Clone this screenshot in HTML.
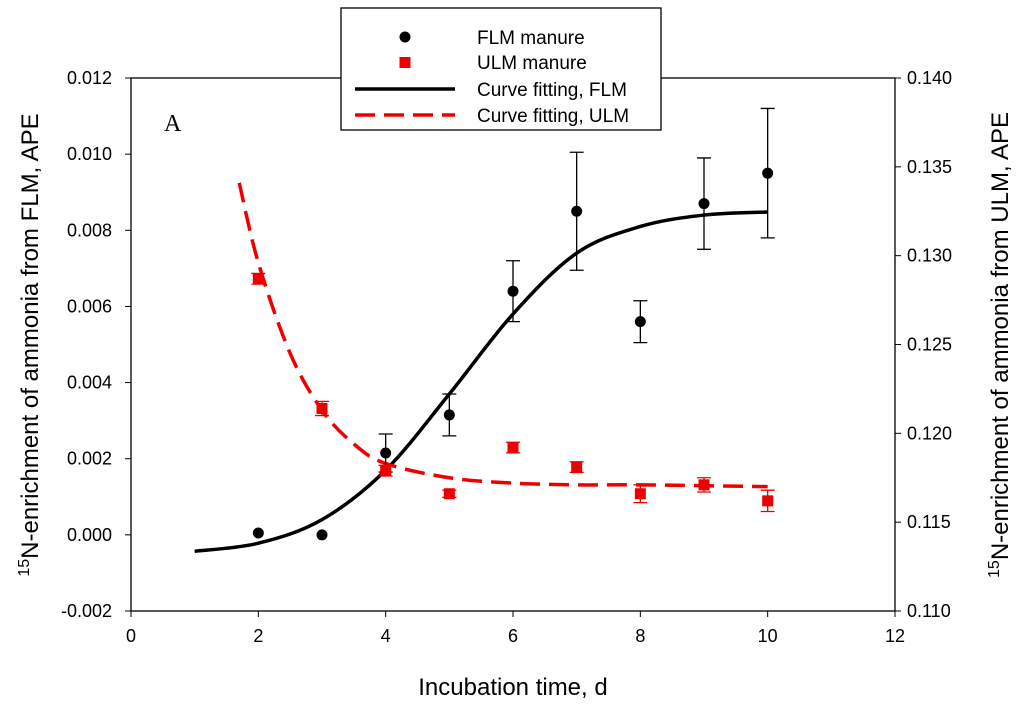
<!DOCTYPE html>
<html><head><meta charset="utf-8"><style>
body{margin:0;background:#fff}
svg{display:block;font-family:"Liberation Sans",sans-serif}
</style></head><body>
<svg id="c" width="1024" height="706" viewBox="0 0 1024 706"></svg>
<script>
const xTicks=[0,2,4,6,8,10,12];
const yLTicks=[-0.002,0,0.002,0.004,0.006,0.008,0.010,0.012];
const yLLabels=["-0.002","0.000","0.002","0.004","0.006","0.008","0.010","0.012"];
const yRTicks=[0.110,0.115,0.120,0.125,0.130,0.135,0.140];
const yRLabels=["0.110","0.115","0.120","0.125","0.130","0.135","0.140"];
const flmX=[2,3,4,5,6,7,8,9,10];
const flmY=[0.00005,0.0000,0.00215,0.00315,0.0064,0.0085,0.0056,0.0087,0.0095];
const flmErr=[0,0,0.0005,0.00055,0.0008,0.00155,0.00055,0.0012,0.0017];
const ulmX=[2,3,4,5,6,7,8,9,10];
const ulmY=[0.1287,0.1214,0.1179,0.1166,0.1192,0.1181,0.1166,0.1171,0.1162];
const ulmErr=[0.0003,0.0004,0.0003,0.0002,0.0003,0.0003,0.0005,0.0004,0.0006];
const flmFitX=[1,2,3,4,5,6,7,8,9,10];
const flmFitY=[-0.00043,-0.00022,0.0004,0.0017,0.0037,0.0058,0.0074,0.0081,0.0084,0.00848];
const ulmFitX=[1.7,2,2.5,3,3.5,4,5,6,7,8,10];
const ulmFitY=[0.1341,0.1296,0.1245,0.1213,0.1194,0.1183,0.1175,0.1172,0.1171,0.1171,0.1170];

const L=131,R=895,T=78,B=611;
const sx=v=>L+(v-0)/12*(R-L);
const sy=v=>B-(v+0.002)/0.014*(B-T);
const sr=v=>B-(v-0.110)/0.030*(B-T);
const svg=document.getElementById('c');
const NS='http://www.w3.org/2000/svg';
function mk(t,a,txt){const e=document.createElementNS(NS,t);for(const k in a)e.setAttribute(k,a[k]);if(txt!==undefined)e.textContent=txt;svg.appendChild(e);return e;}
let e;
e=mk('rect',{x:L,y:T,width:R-L,height:B-T,fill:'none',stroke:'#000','stroke-width':1.3});

xTicks.forEach(v=>{
 e=mk('line',{x1:sx(v),x2:sx(v),y1:B,y2:B+6,stroke:'#000'});
 
 e=mk('text',{x:sx(v),y:B+31,'text-anchor':'middle','font-size':18},String(v));
 
});
yLTicks.forEach((v,i)=>{
 e=mk('line',{x1:L-6,x2:L,y1:sy(v),y2:sy(v),stroke:'#000'});
 
 e=mk('text',{x:L-19,y:sy(v)+6,'text-anchor':'end','font-size':18},yLLabels[i]);
 
});
yRTicks.forEach((v,i)=>{
 e=mk('line',{x1:R,x2:R+6,y1:sr(v),y2:sr(v),stroke:'#000'});
 
 e=mk('text',{x:R+12,y:sr(v)+6,'font-size':18},yRLabels[i]);
 
});
e=mk('text',{x:513,y:695,'text-anchor':'middle','font-size':24},'Incubation time, d');

e=mk('text',{transform:'translate(38,345) rotate(-90)','text-anchor':'middle','font-size':24});
e.innerHTML='<tspan font-size="16" dy="-9">15</tspan><tspan dy="9">N-enrichment of ammonia from FLM, APE</tspan>';

e=mk('text',{transform:'translate(1008,345) rotate(-90)','text-anchor':'middle','font-size':24});
e.innerHTML='<tspan font-size="16" dy="-9">15</tspan><tspan dy="9">N-enrichment of ammonia from ULM, APE</tspan>';

e=mk('text',{x:164,y:131,'font-size':24,'font-family':'Liberation Serif, serif'},'A');


function smooth(pts){let d='M'+pts[0][0]+','+pts[0][1];
 for(let i=0;i<pts.length-1;i++){const p0=pts[Math.max(0,i-1)],p1=pts[i],p2=pts[i+1],p3=pts[Math.min(pts.length-1,i+2)];
 d+=' C'+(p1[0]+(p2[0]-p0[0])/6)+','+(p1[1]+(p2[1]-p0[1])/6)+' '+(p2[0]-(p3[0]-p1[0])/6)+','+(p2[1]-(p3[1]-p1[1])/6)+' '+p2[0]+','+p2[1];}
 return d;}
e=mk('path',{d:smooth(flmFitX.map((x,i)=>[sx(x),sy(flmFitY[i])])),fill:'none',stroke:'#000','stroke-width':3.5});

e=mk('path',{d:smooth(ulmFitX.map((x,i)=>[sx(x),sr(ulmFitY[i])])),fill:'none',stroke:'#e00','stroke-width':3.5,'stroke-dasharray':'20,9'});


flmX.forEach((x,i)=>{const cx=sx(x);
 if(flmErr[i]>0){const a=sy(flmY[i]+flmErr[i]),b=sy(flmY[i]-flmErr[i]);
  e=mk('path',{d:`M${cx},${a}V${b}M${cx-7},${a}H${cx+7}M${cx-7},${b}H${cx+7}`,stroke:'#000','stroke-width':1.3,fill:'none'});
  }
 e=mk('circle',{cx:cx,cy:sy(flmY[i]),r:5.5,fill:'#000'});
 
});
ulmX.forEach((x,i)=>{const cx=sx(x);
 const a=sr(ulmY[i]+ulmErr[i]),b=sr(ulmY[i]-ulmErr[i]);
 e=mk('path',{d:`M${cx},${a}V${b}M${cx-7},${a}H${cx+7}M${cx-7},${b}H${cx+7}`,stroke:'#e00','stroke-width':1.3,fill:'none'});
 
 e=mk('rect',{x:cx-5.5,y:sr(ulmY[i])-5.5,width:11,height:11,fill:'#e00'});
 
});

e=mk('rect',{x:341,y:8,width:320,height:122,fill:'#fff',stroke:'#000','stroke-width':1.3});

e=mk('circle',{cx:405,cy:37,r:5.5,fill:'#000'});
e=mk('rect',{x:399.5,y:57,width:11,height:11,fill:'#e00'});
e=mk('line',{x1:355,x2:455,y1:89,y2:89,stroke:'#000','stroke-width':3.5});
e=mk('line',{x1:355,x2:455,y1:115,y2:115,stroke:'#e00','stroke-width':3.5,'stroke-dasharray':'20,9'});
[['FLM manure',37],['ULM manure',62],['Curve fitting, FLM',89],['Curve fitting, ULM',115]].forEach(([t,y])=>{
 e=mk('text',{x:477,y:y+7,'font-size':19},t);
 
});
</script>
</body></html>
